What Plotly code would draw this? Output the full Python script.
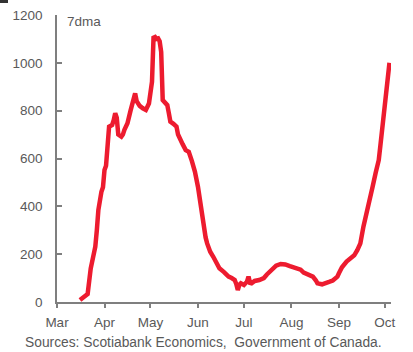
import plotly.graph_objects as go

# Daily new COVID-19 cases in Canada, 7-day moving average (2020)
dates = [
    "2020-03-16", "2020-03-18", "2020-03-21", "2020-03-23", "2020-03-24",
    "2020-03-26", "2020-03-27", "2020-03-28", "2020-03-30", "2020-03-31",
    "2020-04-01", "2020-04-02", "2020-04-04", "2020-04-06", "2020-04-07",
    "2020-04-08", "2020-04-09", "2020-04-10", "2020-04-12", "2020-04-13",
    "2020-04-14", "2020-04-16", "2020-04-18", "2020-04-20", "2020-04-21",
    "2020-04-22", "2020-04-24", "2020-04-26", "2020-04-28", "2020-04-30",
    "2020-05-01", "2020-05-02", "2020-05-03", "2020-05-04", "2020-05-05",
    "2020-05-06", "2020-05-07", "2020-05-08", "2020-05-09", "2020-05-10",
    "2020-05-12", "2020-05-13", "2020-05-14", "2020-05-16", "2020-05-18",
    "2020-05-19", "2020-05-20", "2020-05-22", "2020-05-24", "2020-05-26",
    "2020-05-28", "2020-05-30", "2020-06-01", "2020-06-03", "2020-06-04",
    "2020-06-06", "2020-06-07", "2020-06-09", "2020-06-11", "2020-06-13",
    "2020-06-15", "2020-06-18", "2020-06-21", "2020-06-23", "2020-06-25",
    "2020-06-26", "2020-06-27", "2020-06-28", "2020-06-29", "2020-07-01",
    "2020-07-03", "2020-07-04", "2020-07-05", "2020-07-06", "2020-07-08",
    "2020-07-11", "2020-07-14", "2020-07-16", "2020-07-18", "2020-07-20",
    "2020-07-22", "2020-07-25", "2020-07-28", "2020-07-31", "2020-08-03",
    "2020-08-05", "2020-08-07", "2020-08-09", "2020-08-12", "2020-08-15",
    "2020-08-17", "2020-08-18", "2020-08-21", "2020-08-24", "2020-08-26",
    "2020-08-28", "2020-08-31", "2020-09-01", "2020-09-03", "2020-09-06",
    "2020-09-09", "2020-09-11", "2020-09-13", "2020-09-15", "2020-09-17",
    "2020-09-18", "2020-09-20", "2020-09-22", "2020-09-23", "2020-09-25",
    "2020-09-27", "2020-09-28", "2020-09-30", "2020-10-02", "2020-10-04",
]
cases = [
    8, 18, 33, 140, 175,
    231, 300, 385, 461, 480,
    552, 570, 733, 740, 760,
    789, 770, 700, 691, 700,
    720, 747, 800, 840, 872,
    840, 820, 810, 803, 830,
    900, 921, 1105, 1108, 1100,
    1102, 1090, 1046, 844, 835,
    823, 790, 754, 745, 733,
    700, 684, 660, 635, 628,
    590, 545, 482, 390, 329,
    270, 245, 210, 189, 160,
    141, 125, 106, 100, 92,
    75, 50, 72, 78, 71,
    85, 106, 80, 78, 88,
    92, 100, 115, 127, 141,
    152, 159, 157, 150, 145,
    141, 135, 123, 115, 106,
    90, 78, 74, 78, 85,
    90, 106, 120, 145, 169,
    183, 195, 217, 245, 315,
    340, 398, 450, 482, 540,
    593, 650, 774, 880, 1000,
]

red = "#ED1B2F"
grey_axis = "#7F7F7F"
grey_text = "#595959"
font_family = "Liberation Sans, Arial, sans-serif"

fig = go.Figure()
fig.add_trace(go.Scatter(
    x=dates, y=cases, mode="lines",
    line=dict(color=red, width=4.5),
    hoverinfo="skip", showlegend=False,
))

L, R, T, B = 57, 22, 15, 50
W, H = 413, 352
PW, PH = W - L - R, H - T - B

fig.update_layout(
    width=W, height=H,
    margin=dict(l=L, r=R, t=T, b=B, pad=0, autoexpand=False),
    paper_bgcolor="white", plot_bgcolor="white",
    font=dict(family=font_family, size=13, color=grey_text),
    xaxis=dict(
        type="date",
        range=["2020-03-01", "2020-10-05"],
        dtick="M1", tick0="2020-03-01", tickformat="%b",
        showgrid=False, zeroline=False, automargin=False,
        showline=True, linecolor=grey_axis, linewidth=1.5,
        ticks="outside", ticklen=4, tickcolor=grey_axis, tickwidth=1.5,
        ticklabelstandoff=3,
        tickfont=dict(size=13.5, color=grey_text),
    ),
    yaxis=dict(
        range=[0, 1200], dtick=200,
        showgrid=False, zeroline=False, automargin=False,
        showline=True, linecolor=grey_axis, linewidth=1.5,
        ticks="inside", ticklen=5, tickcolor=grey_axis, tickwidth=1.5,
        ticklabelstandoff=10,
        tickfont=dict(size=13.5, color=grey_text),
    ),
    annotations=[
        dict(text="7dma", xref="paper", yref="paper",
             x=(65 - L) / PW, y=1 - (21 - T) / PH,
             xanchor="left", yanchor="middle", showarrow=False,
             font=dict(size=13.5, color=grey_text)),
        dict(text="Sources: Scotiabank Economics,  Government of Canada.",
             xref="paper", yref="paper",
             x=(23 - L) / PW, y=-(342 - (H - B)) / PH,
             xanchor="left", yanchor="middle", showarrow=False,
             font=dict(size=13.8, color=grey_text)),
    ],
    shapes=[
        dict(type="rect", xref="paper", yref="paper",
             x0=(0 - L) / PW, x1=(8 - L) / PW,
             y0=1 + (T - 3) / PH, y1=1 + T / PH,
             fillcolor="#333333", line=dict(width=0)),
    ],
)

fig.write_html("out.html")
